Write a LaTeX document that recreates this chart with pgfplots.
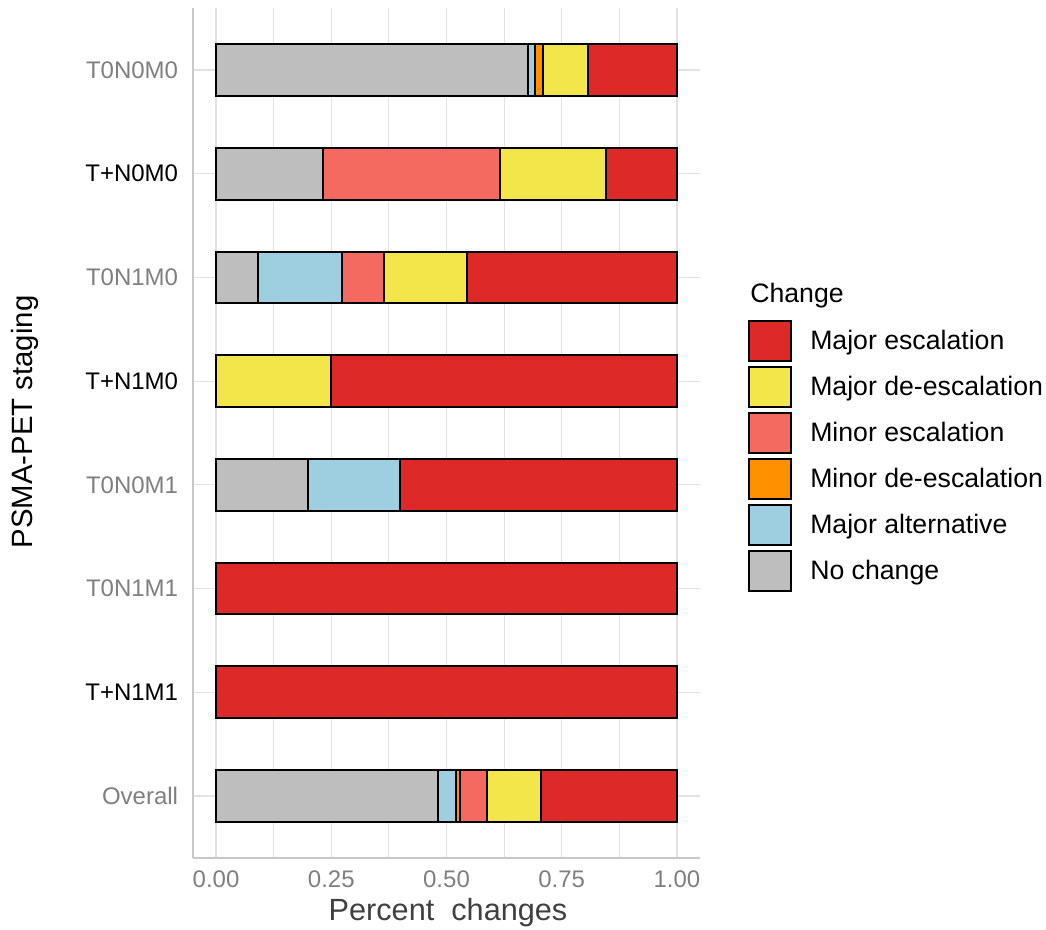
\documentclass[border=0pt]{standalone}
\usepackage{fontspec}
\setmainfont{Liberation Sans}
\usepackage{pgfplots}
\pgfplotsset{compat=1.18}
\definecolor{cRed}{HTML}{DD2A29}
\definecolor{cYel}{HTML}{F2E64A}
\definecolor{cSal}{HTML}{F46A61}
\definecolor{cOra}{HTML}{FF9000}
\definecolor{cBlu}{HTML}{9ECFE0}
\definecolor{cGry}{HTML}{BEBEBE}
\definecolor{tickgray}{HTML}{7F7F7F}
\definecolor{gridc}{HTML}{E2E2E2}
\definecolor{axisc}{HTML}{C8C8C8}
\definecolor{labc}{HTML}{404040}
\begin{document}
\begin{tikzpicture}
\begin{axis}[
  name=ax, at={(0,0)}, anchor=south west,
  scale only axis, width=380.25pt, height=637.8pt,
  xbar stacked, bar width=0.5,
  xmin=-0.05, xmax=1.05, ymin=-0.6, ymax=7.6,
  xtick={0,0.25,0.5,0.75,1}, minor xtick={0.125,0.375,0.625,0.875},
  ytick={0,1,2,3,4,5,6,7},
  yticklabels={\textcolor{tickgray}{Overall}, T+N1M1, \textcolor{tickgray}{T0N1M1}, \textcolor{tickgray}{T0N0M1}, T+N1M0, \textcolor{tickgray}{T0N1M0}, T+N0M0, \textcolor{tickgray}{T0N0M0}},
  xmajorgrids, xminorgrids, ymajorgrids,
  major grid style={draw=gridc, line width=0.9pt},
  minor grid style={draw=gridc, line width=0.6pt},
  major tick length=0pt, minor tick length=0pt,
  separate axis lines, axis x line*=bottom, axis y line*=left,
  axis line style={-, draw=axisc, line width=1.5pt},
  /pgf/number format/assume math mode=true,
  xticklabel={\pgfmathprintnumber[fixed, fixed zerofill, precision=2]{\tick}},
  xticklabel style={font=\fontsize{18}{21}\selectfont, text=tickgray, anchor=north, inner sep=0pt, yshift=-9pt},
  yticklabel style={font=\fontsize{18}{21}\selectfont, anchor=east, inner sep=0pt, xshift=-11pt},
  xlabel={Percent\ \ changes},
  xlabel style={font=\fontsize{23}{26}\selectfont, text=labc, at={(axis description cs:0.503,-0.0635)}, anchor=center},
  ylabel={PSMA-PET staging},
  ylabel style={font=\fontsize{22}{26}\selectfont, at={(axis description cs:-0.331,0.513)}, anchor=center, rotate=0},
  every axis plot/.append style={draw=black, line width=1.5pt},
  reverse legend,
  legend image code/.code={\draw[#1, line width=1.5pt] (0pt,-15pt) rectangle (31.5pt,15pt);},
  legend style={at={(axis description cs:1.0947,0.6329)}, anchor=north west, draw=none, fill=none,
    inner sep=0pt, row sep=3pt, column sep=11.5pt, font=\fontsize{20}{24}\selectfont},
  legend cell align=left,
]
% No change
\addplot[fill=cGry] coordinates {(0.482,0) (0,1) (0,2) (0.2,3) (0,4) (0.0909,5) (0.231,6) (0.677,7)};
% Major alternative
\addplot[fill=cBlu] coordinates {(0.038,0) (0,1) (0,2) (0.2,3) (0,4) (0.1818,5) (0,6) (0.016,7)};
% Minor de-escalation
\addplot[fill=cOra] coordinates {(0.009,0) (0,1) (0,2) (0,3) (0,4) (0,5) (0,6) (0.016,7)};
% Minor escalation
\addplot[fill=cSal] coordinates {(0.059,0) (0,1) (0,2) (0,3) (0,4) (0.0909,5) (0.3846,6) (0,7)};
% Major de-escalation
\addplot[fill=cYel] coordinates {(0.118,0) (0,1) (0,2) (0,3) (0.25,4) (0.1818,5) (0.2308,6) (0.097,7)};
% Major escalation
\addplot[fill=cRed] coordinates {(0.294,0) (1,1) (1,2) (0.6,3) (0.75,4) (0.4546,5) (0.1536,6) (0.194,7)};
\legend{No change, Major alternative, Minor de-escalation, Minor escalation, Major de-escalation, Major escalation}
\end{axis}
\node[anchor=west, inner sep=0pt, font=\fontsize{20}{24}\selectfont] at (417.75pt,422.25pt) {Change};
\pgfresetboundingbox
\path[use as bounding box] (-144.75pt,-53.85pt) rectangle (639.75pt,643.65pt);
\end{tikzpicture}
\end{document}
